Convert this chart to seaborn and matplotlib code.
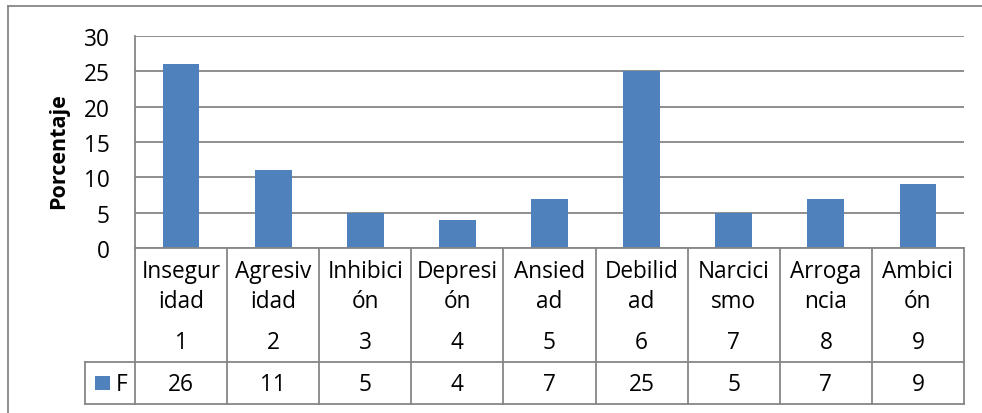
import matplotlib
matplotlib.use("Agg")
import matplotlib.pyplot as plt
import seaborn as sns
import pandas as pd
from matplotlib.lines import Line2D
from matplotlib.patches import Rectangle
import matplotlib.transforms as mtransforms

categories = ["Inseguridad", "Agresividad", "Inhibición", "Depresión", "Ansiedad",
              "Debilidad", "Narcicismo", "Arrogancia", "Ambición"]
wrapped = ["Insegur\nidad", "Agresiv\nidad", "Inhibici\nón", "Depresi\nón", "Ansied\nad",
           "Debilid\nad", "Narcici\nsmo", "Arroga\nncia", "Ambici\nón"]
numbers = ["1", "2", "3", "4", "5", "6", "7", "8", "9"]
values = [26, 11, 5, 4, 7, 25, 5, 7, 9]
series_name = "F"
yticks = [0, 5, 10, 15, 20, 25, 30]

df = pd.DataFrame({"cat": categories, "val": values})

W, H = 982, 414
fig = plt.figure(figsize=(W / 100, H / 100), dpi=100)
FONT = ['Open Sans', 'DejaVu Sans']
plt.rcParams['font.family'] = FONT
FS = 16.3
GRID = "#868686"
BAR = "#4F81BD"

L, R, T, B = 135, 964, 37, 249
ax = fig.add_axes([L / W, 1 - B / H, (R - L) / W, (B - T) / H])
sns.barplot(data=df, x="cat", y="val", color=BAR, width=0.4, ax=ax, saturation=1)
ax.set_ylim(0, 30)
ax.set_xlim(-0.5, len(categories) - 0.5)
ax.set_yticks(yticks)
ax.set_yticklabels([str(t) for t in yticks], fontsize=FS, family=FONT)
ax.tick_params(axis='y', length=0, pad=18)
ax.tick_params(axis='x', length=0, labelbottom=False)
ax.set_xlabel("")
ax.set_ylabel("")
fig.text(59 / W, 1 - 151 / H, "Porcentaje", rotation=90, ha="center", va="center",
         fontsize=15.5, fontweight="bold", family=FONT)
ax.yaxis.grid(True, color=GRID, linewidth=1.3)
ax.set_axisbelow(True)
for s in ["top", "right"]:
    ax.spines[s].set_visible(False)
ax.spines["left"].set_color(GRID)
ax.spines["left"].set_linewidth(1.3)
ax.spines["bottom"].set_color(GRID)
ax.spines["bottom"].set_linewidth(1.3)

# data table below axes
ph = B - T
def ay(ypix):
    return (B - ypix) / ph

row1 = ay(363)
row2 = ay(405)
trans = mtransforms.blended_transform_factory(ax.transData, ax.transAxes)
n = len(categories)
kw = dict(color=GRID, linewidth=1.3, clip_on=False)
for i in range(n + 1):
    ax.add_line(Line2D([i - 0.5, i - 0.5], [0, row2], transform=trans, **kw))
legx = (85 - L) / (R - L)
ax.add_line(Line2D([legx, 1], [row1, row1], transform=ax.transAxes, **kw))
ax.add_line(Line2D([legx, 1], [row2, row2], transform=ax.transAxes, **kw))
ax.add_line(Line2D([legx, legx], [row1, row2], transform=ax.transAxes, **kw))

for i in range(n):
    ax.text(i, ay(287), wrapped[i], transform=trans, ha="center", va="center",
            fontsize=FS, family=FONT, linespacing=1.3, clip_on=False)
    ax.text(i, ay(343), numbers[i], transform=trans, ha="center", va="center",
            fontsize=FS, family=FONT, clip_on=False)
    ax.text(i, ay(385), str(values[i]), transform=trans, ha="center", va="center",
            fontsize=FS, family=FONT, clip_on=False)

# legend key
fig.patches.append(Rectangle((95 / W, 1 - 391 / H), 15 / W, 14 / H, transform=fig.transFigure,
                             facecolor=BAR, edgecolor="none"))
fig.text(116 / W, 1 - 385 / H, series_name, ha="left", va="center", fontsize=FS, family=FONT)

# outer chart border
fig.add_artist(Line2D([8 / W, 1], [1 - 7 / H, 1 - 7 / H], transform=fig.transFigure, color=GRID, linewidth=1.3))
fig.add_artist(Line2D([8 / W, 8 / W], [0, 1 - 7 / H], transform=fig.transFigure, color=GRID, linewidth=1.3))

fig.savefig("out.png", dpi=100)
